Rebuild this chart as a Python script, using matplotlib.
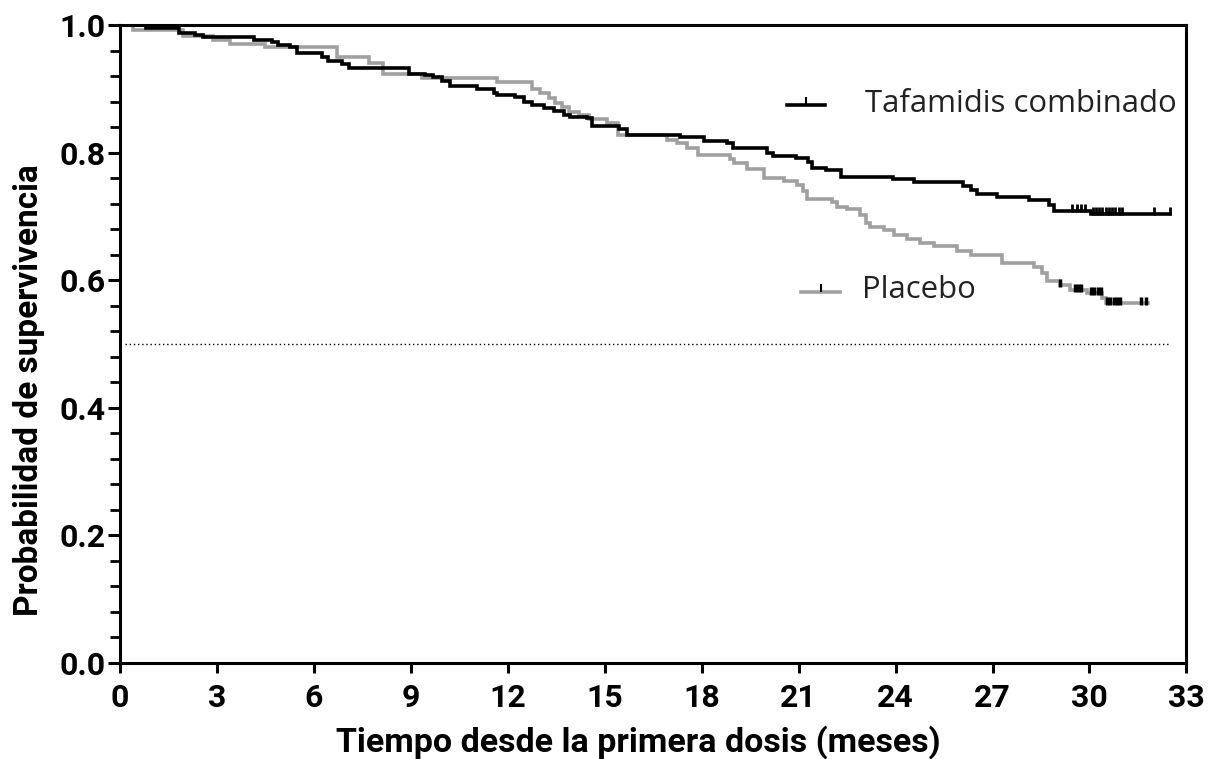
import numpy as np
import matplotlib
matplotlib.use("Agg")
import matplotlib.pyplot as plt
from matplotlib.ticker import MultipleLocator

# Kaplan-Meier steps (months, survival)
t_taf = [0, 0.8, 1.81, 2.32, 2.58, 4.13, 4.70, 4.90, 5.26, 5.47, 6.24, 6.45, 6.86, 7.07,
         8.93, 9.44, 9.70, 9.96, 10.22, 11.04, 11.56, 11.66, 12.23, 12.49, 12.75, 13.11,
         13.42, 13.73, 13.93, 14.45, 14.60, 15.43, 15.69, 17.34, 18.08, 18.78, 18.96,
         20.02, 20.2, 20.92, 21.28, 21.42, 21.85, 22.32, 23.92, 24.56, 26.1, 26.32, 26.52,
         27.14, 28.12, 28.74, 28.9, 30.05, 32.5]
s_taf = [1.0, 0.996, 0.988, 0.984, 0.981, 0.977, 0.974, 0.969, 0.965, 0.956, 0.950, 0.944,
         0.939, 0.932, 0.923, 0.922, 0.918, 0.913, 0.904, 0.900, 0.894, 0.891, 0.887, 0.880,
         0.875, 0.870, 0.866, 0.859, 0.856, 0.854, 0.841, 0.837, 0.828, 0.824, 0.819, 0.815,
         0.807, 0.800, 0.795, 0.792, 0.786, 0.776, 0.772, 0.762, 0.759, 0.754, 0.747, 0.741,
         0.735, 0.731, 0.725, 0.718, 0.709, 0.704, 0.704]

t_pla = [0, 0.4, 1.96, 2.89, 3.41, 4.49, 6.71, 7.69, 8.15, 9.34, 11.66, 12.75, 13.0, 13.26,
         13.47, 13.67, 13.88, 14.19, 14.50, 15.07, 15.4, 16.93, 17.24, 17.54, 17.90, 18.89,
         18.99, 19.40, 19.92, 20.54, 20.95, 21.15, 21.26, 22.03, 22.19, 22.5, 22.91, 23.07,
         23.22, 23.63, 23.94, 24.36, 24.77, 25.18, 25.90, 26.32, 27.30, 28.28, 28.53, 28.69,
         29.10, 29.41, 29.93, 30.39, 30.5, 31.8]
s_pla = [1.0, 0.993, 0.983, 0.976, 0.971, 0.965, 0.950, 0.940, 0.924, 0.917, 0.910, 0.900,
         0.893, 0.885, 0.878, 0.872, 0.864, 0.859, 0.852, 0.847, 0.828, 0.820, 0.815, 0.808,
         0.797, 0.790, 0.783, 0.774, 0.761, 0.756, 0.749, 0.740, 0.728, 0.722, 0.715, 0.711,
         0.702, 0.690, 0.684, 0.678, 0.671, 0.665, 0.659, 0.653, 0.646, 0.639, 0.627, 0.621,
         0.611, 0.599, 0.592, 0.585, 0.580, 0.572, 0.564, 0.564]

# censoring times
cens_taf = [29.45, 29.6, 29.75, 29.85, 30.1, 30.2, 30.3, 30.4, 30.5, 30.6, 30.7, 30.8,
            30.9, 31.0, 32.0, 32.5]
cens_pla = [29.1, 29.55, 29.65, 29.75, 30.05, 30.15, 30.25, 30.35, 30.55, 30.65, 30.75,
            30.85, 30.95, 31.6, 31.75]

x_ticks = [0, 3, 6, 9, 12, 15, 18, 21, 24, 27, 30, 33]
y_ticks = [0.0, 0.2, 0.4, 0.6, 0.8, 1.0]

GRAY = "#a0a0a0"


def surv_at(t, s, times):
    idx = np.searchsorted(t, times, side="right") - 1
    return np.array(s)[idx]


fig = plt.figure(figsize=(12.25, 7.59), dpi=100)
ax = fig.add_axes([0.098, 0.1265, 0.8705, 0.8405])

ax.axhline(0.5, xmin=0.005, xmax=0.985, color="black", lw=1.0, ls=(0, (1, 2)))

ax.step(t_pla, s_pla, where="post", color=GRAY, lw=2.6, solid_joinstyle="miter")
ax.step(t_taf, s_taf, where="post", color="black", lw=2.6, solid_joinstyle="miter")

ax.plot(cens_taf, surv_at(t_taf, s_taf, cens_taf) + 0.004, ls="none", marker="|",
        color="black", ms=6, mew=2)
ax.plot(cens_pla, surv_at(t_pla, s_pla, cens_pla) + 0.003, ls="none", marker="|",
        color="black", ms=6, mew=2.5)

# legend entries, placed by hand like the original
tr = ax.transAxes
ax.plot([0.625, 0.661], [0.875, 0.875], transform=tr, color="black", lw=2.6)
ax.plot([0.643], [0.881], transform=tr, marker="|", color="black", ms=6, mew=1.5)
ax.text(0.699, 0.877, "Tafamidis combinado", transform=tr, fontsize=22.4,
        family="Open Sans", color="#222222", va="center")
ax.plot([0.639, 0.675], [0.582, 0.582], transform=tr, color=GRAY, lw=2.6)
ax.plot([0.657], [0.588], transform=tr, marker="|", color="black", ms=6, mew=1.5)
ax.text(0.696, 0.584, "Placebo", transform=tr, fontsize=22.4,
        family="Open Sans", color="#222222", va="center")

ax.set_xlim(0, 33)
ax.set_ylim(0, 1.0)
ax.set_xticks(x_ticks)
ax.set_yticks(y_ticks)
ax.set_yticklabels([f"{v:.1f}" for v in y_ticks])
ax.yaxis.set_minor_locator(MultipleLocator(0.04))

for sp in ax.spines.values():
    sp.set_linewidth(2.2)
ax.tick_params(axis="both", which="major", width=2.2, direction="out", labelsize=23)
ax.tick_params(axis="x", which="major", length=7.5, pad=7)
ax.tick_params(axis="y", which="major", length=8.5, pad=2)
ax.tick_params(axis="y", which="minor", length=7, width=2.0, direction="out")
for lab in ax.get_xticklabels() + ax.get_yticklabels():
    lab.set_fontweight("bold")
    lab.set_family("Roboto")

ax.set_xlabel("Tiempo desde la primera dosis (meses)", fontsize=24.5, fontweight="bold",
              family="Roboto")
ax.set_ylabel("Probabilidad de supervivencia", fontsize=24, fontweight="bold",
              family="Roboto")
ax.xaxis.set_label_coords(0.486, -0.097)
ax.yaxis.set_label_coords(-0.070, 0.428)

fig.savefig("out.png", dpi=100)
